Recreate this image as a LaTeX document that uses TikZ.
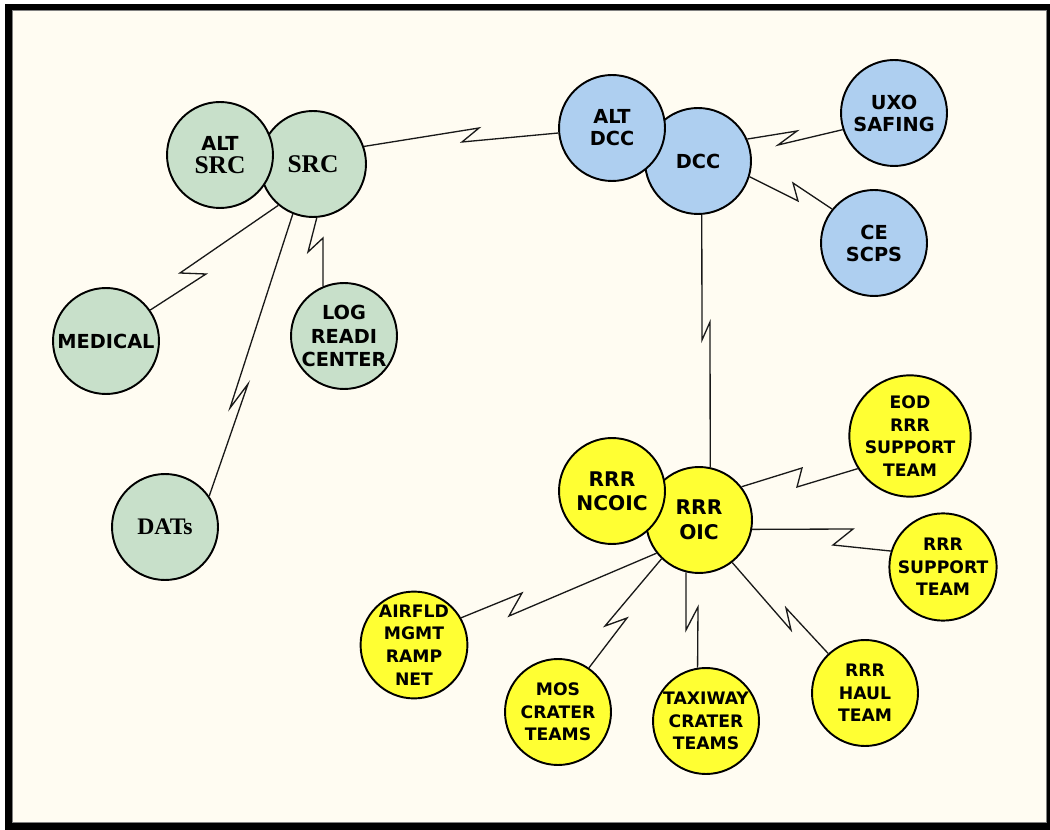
\documentclass[tikz,border=0pt]{standalone}
\usepackage{fontspec}
\setmainfont{DejaVu Sans}
\newfontfamily\srcserif{Liberation Serif}
\usepackage{xcolor}
\usepackage{tikz}
\definecolor{PaperCream}{RGB}{255,252,242}
\definecolor{SRCGreen}{RGB}{200,224,202}
\definecolor{DCCBlue}{RGB}{174,207,240}
\definecolor{RRRYellow}{RGB}{255,255,51}

\begin{document}
\begin{tikzpicture}[x=0.02cm, y=-0.02cm,
    ring/.style={circle, draw=black, line width=1.1pt, minimum size=2.12cm, inner sep=0pt, align=center},
    grn/.style={ring, fill=SRCGreen, font=\bfseries\fontsize{11}{13.5}\selectfont},
    blu/.style={ring, fill=DCCBlue, font=\bfseries\fontsize{11}{12.5}\selectfont},
    yel/.style={ring, fill=RRRYellow, font=\bfseries\fontsize{9.8}{12.9}\selectfont},
    yelbig/.style={ring, fill=RRRYellow, font=\bfseries\fontsize{11.5}{14.5}\selectfont},
    serifname/.style={font=\srcserif\bfseries\fontsize{14.5}{16}\selectfont},
    link/.style={draw=black!90, line width=0.75pt}]
    \useasboundingbox (0,0) rectangle (1050,830);

    % 外框
    \fill[white] (0,0) rectangle (1050,830);
    \fill[black] (5,4) rectangle (1050,830);
    \filldraw[fill=PaperCream, draw=gray, line width=0.5pt] (12,10) rectangle (1046,822);

    % SRC 组 (绿色)
    \node[grn, serifname] (src) at (313,164) {SRC};
    \node[grn] (altsrc) at (220,155) {ALT\\{\srcserif\fontsize{14.5}{16}\selectfont SRC}};
    \node[grn] (medical) at (106,341) {MEDICAL};
    \node[grn] (log) at (344,336) {LOG\\READI\\CENTER};
    \node[grn, font=\srcserif\bfseries\fontsize{13.5}{15}\selectfont] (dats) at (165,527) {DATs};

    % DCC 组 (蓝色)
    \node[blu] (dcc) at (698,161) {DCC};
    \node[blu] (altdcc) at (612,128) {ALT\\DCC};
    \node[blu] (uxo) at (894,113) {UXO\\SAFING};
    \node[blu] (ce) at (874,243) {CE\\SCPS};

    % RRR 组 (黄色)
    \node[yelbig] (oic) at (699,520) {RRR\\OIC};
    \node[yelbig, font=\bfseries\fontsize{11.5}{13.6}\selectfont] (ncoic) at (612,491) {RRR\\NCOIC};
    \node[yel] (eod) at (910,436) {EOD\\RRR\\SUPPORT\\TEAM};
    \node[yel] (rrrsup) at (943,567) {RRR\\SUPPORT\\TEAM};
    \node[yel] (airfld) at (414,645) {AIRFLD\\MGMT\\RAMP\\NET};
    \node[yel] (mos) at (558,712) {MOS\\CRATER\\TEAMS};
    \node[yel] (taxi) at (706,721) {TAXIWAY\\CRATER\\TEAMS};
    \node[yel] (haul) at (865,693) {RRR\\HAUL\\TEAM};

    % 折线连接 (闪电形)
    \draw[link] (src.19) -- (479,128) -- (462,142) -- (altdcc);
    \draw[link] (src.230) -- (180,273) -- (206,274) -- (medical.35);
    \draw[link] (src.274) -- (308,252) -- (323,238) -- (log.113);
    \draw[link] (src.248) -- (230,408) -- (248,384) -- (dats.35);

    \draw[link] (dcc.24) -- (797,131) -- (778,145) -- (uxo.198);
    \draw[link] (dcc.343) -- (798,201) -- (793,183) -- (ce.141);
    \draw[link] (dcc.274) -- (702,340) -- (710,322) -- (oic.78);

    \draw[link] (oic.38) -- (802,468) -- (797,487) -- (eod.212);
    \draw[link] (oic.350) -- (853,529) -- (833,545) -- (rrrsup.163);
    \draw[link] (oic.218) -- (509,616) -- (522,593) -- (airfld.30);
    \draw[link] (oic.226) -- (605,626) -- (627,618) -- (mos.55);
    \draw[link] (oic.256) -- (686,630) -- (698,607) -- (taxi.99);
    \draw[link] (oic.308) -- (791,630) -- (786,608) -- (haul.133);
\end{tikzpicture}
\end{document}
